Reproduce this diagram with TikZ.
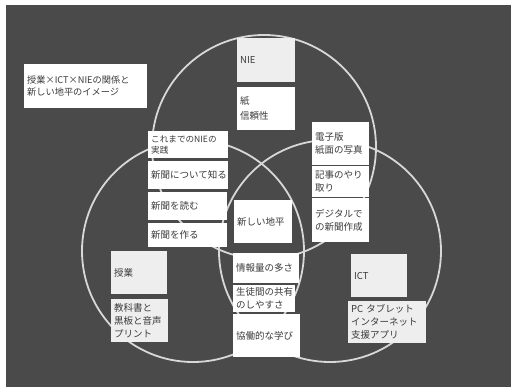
\documentclass[tikz,border=0pt]{standalone}
\usepackage{fontspec}
\newfontfamily\jp{Noto Sans CJK JP}
\definecolor{bg}{HTML}{4A4A4A}
\definecolor{ring}{HTML}{D8D8D8}
\definecolor{boxg}{HTML}{EEEEEE}
\definecolor{txt}{HTML}{3A3A3A}
\begin{document}
\begin{tikzpicture}[x=1pt,y=-1pt,
  ringline/.style={draw=ring,line width=1.8pt},
  box/.style={anchor=north west,fill=white,inner xsep=3pt,inner ysep=0pt,align=left,
    text=txt,font=\jp\fontsize{9.5}{13}\selectfont},
  gbox/.style={box,fill=boxg},
  small/.style={font=\jp\fontsize{8.6}{11}\selectfont}]
\useasboundingbox (0,0) rectangle (511,387);
\fill[white] (0,0) rectangle (511,387);
\fill[bg] (6,5) rectangle (511,387);
% circles
\draw[ringline] (264,147) circle[radius=112pt];
\draw[ringline] (193,251) circle[radius=111pt];
\draw[ringline] (330,251) circle[radius=111pt];
% title
\node[box,font=\jp\fontsize{9.2}{12}\selectfont,text width=117pt,minimum height=44pt] (title) at (24,64) {授業×ICT×NIEの関係と\\新しい地平のイメージ};
% NIE column
\node[gbox,text width=52pt,minimum height=44pt] (nie) at (237,38) {NIE};
\node[box,text width=52pt,minimum height=43pt,font=\jp\fontsize{9.5}{15}\selectfont] (kami) at (237,87) {紙\\信頼性};
% NIE x ICT
\node[box,text width=51pt,minimum height=43pt] (denshi) at (312,122) {電子版\\紙面の写真};
\node[box,text width=51pt,minimum height=31pt] (kiji) at (312,166) {記事のやり\\取り};
\node[box,text width=51pt,minimum height=44pt] (digital) at (312,198) {デジタルで\\の新聞作成};
% NIE x Jugyo
\node[box,small,text width=74pt,minimum height=27pt] (korema) at (148,131) {これまでのNIEの\\実践};
\node[box,text width=74pt,minimum height=28pt] (shiru) at (148,161) {新聞について知る};
\node[box,text width=73pt,minimum height=28pt] (yomu) at (148,192) {新聞を読む};
\node[box,text width=73pt,minimum height=24pt] (tsukuru) at (148,223) {新聞を作る};
% center
\node[box,text width=52pt,minimum height=43pt] (chihei) at (234,200) {新しい地平};
% Jugyo x ICT
\node[box,text width=60pt,minimum height=30pt] (joho) at (233,253) {情報量の多さ};
\node[box,text width=56pt,minimum height=27pt] (kyoyu) at (233,285) {生徒間の共有\\のしやすさ};
\node[box,text width=61pt,minimum height=43pt] (kyodo) at (233,314) {協働的な学び};
% Jugyo
\node[gbox,text width=50pt,minimum height=43pt] (jugyo) at (111,251) {授業};
\node[gbox,text width=51pt,minimum height=43pt] (kyoka) at (111,299) {教科書と\\黒板と音声\\プリント};
% ICT
\node[gbox,text width=50pt,minimum height=43pt] (ict) at (351,254) {ICT};
\node[gbox,text width=72pt,minimum height=42pt] (pc) at (348,301) {PC タブレット\\インターネット\\支援アプリ};
\end{tikzpicture}
\end{document}
